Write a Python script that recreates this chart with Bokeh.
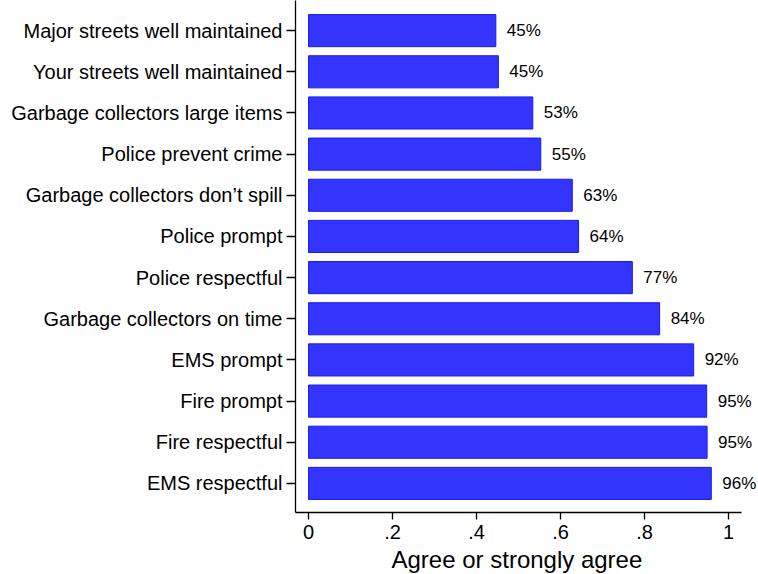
from bokeh.plotting import figure
from bokeh.models import ColumnDataSource, Range1d, FixedTicker, LabelSet, Title
from bokeh.core.properties import value
from bokeh.embed import file_html
from bokeh.resources import INLINE

# Data (listed top to bottom as in the chart)
categories = [
    "Major streets well maintained",
    "Your streets well maintained",
    "Garbage collectors large items",
    "Police prevent crime",
    "Garbage collectors don\u2019t spill",
    "Police prompt",
    "Police respectful",
    "Garbage collectors on time",
    "EMS prompt",
    "Fire prompt",
    "Fire respectful",
    "EMS respectful",
]
values = [0.446, 0.452, 0.534, 0.553, 0.628, 0.643, 0.771, 0.836, 0.917, 0.948, 0.949, 0.959]
x_ticks = [0, 0.2, 0.4, 0.6, 0.8, 1.0]
x_tick_labels = ["0", ".2", ".4", ".6", ".8", "1"]
x_title = "Agree or strongly agree"

n = len(categories)
ypos = [n - 1 - i for i in range(n)]
labels = [f"{round(v * 100)}%" for v in values]

src = ColumnDataSource(dict(y=ypos, v=values, lab=labels))

FONT = "Liberation Sans"

p = figure(
    width=758, height=574,
    output_backend="svg", toolbar_location=None,
    x_range=Range1d(-0.031, -0.031 + (758 - 295) / 420),
    y_range=Range1d(-0.707, -0.707 + 510 / 41),
    min_border_left=295, min_border_right=0, min_border_top=0, min_border_bottom=0,
)
p.outline_line_color = None
p.xgrid.visible = False
p.ygrid.visible = False
p.background_fill_color = "white"

p.hbar(y="y", right="v", left=0, height=0.78, source=src,
       fill_color="#3434ff", line_color="#1a1aee", line_width=1)

p.add_layout(LabelSet(x="v", y="y", text="lab", source=src, x_offset=11,
                      text_align="left", text_baseline="middle",
                      text_font_size="17px", text_color="black",
                      text_font=value(FONT)))

# y axis
p.yaxis.ticker = FixedTicker(ticks=ypos)
p.yaxis.major_label_overrides = {y: c for y, c in zip(ypos, categories)}
p.yaxis.major_tick_out = 9
p.yaxis.major_tick_in = 0
p.yaxis.minor_tick_line_color = None
p.yaxis.major_label_standoff = 4
p.yaxis.major_label_text_font_size = "20px"
p.yaxis.major_label_text_font = FONT
p.yaxis.major_label_text_color = "black"
p.yaxis.axis_line_color = "black"
p.yaxis.axis_line_width = 1.3
p.yaxis.major_tick_line_width = 1.3

# x axis
p.xaxis.bounds = (-0.031, 1.031)
p.xaxis.ticker = FixedTicker(ticks=x_ticks)
p.xaxis.major_label_overrides = {t: l for t, l in zip(x_ticks, x_tick_labels)}
p.xaxis.major_tick_out = 7
p.xaxis.major_tick_in = 0
p.xaxis.minor_tick_line_color = None
p.xaxis.major_label_standoff = 5
p.xaxis.major_label_text_font_size = "20px"
p.xaxis.major_label_text_font = FONT
p.xaxis.major_label_text_color = "black"
p.xaxis.axis_line_color = "black"
p.xaxis.axis_line_width = 1.3
p.xaxis.major_tick_line_width = 1.3

# x axis title, centred under the drawn axis line
p.add_layout(Title(text=x_title, align="left", offset=96, standoff=4,
                   text_font_size="24px", text_font=FONT,
                   text_font_style="normal", text_color="black"), "below")

open("out.html", "w").write(file_html(p, INLINE))
